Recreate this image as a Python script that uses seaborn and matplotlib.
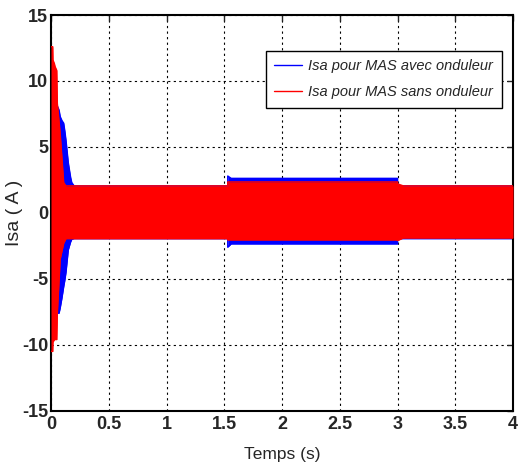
import seaborn as sns
import matplotlib.pyplot as plt
import pandas as pd

# envelope of Isa (A)
blue_t = [0.0, 0.05, 0.07, 0.08, 0.095, 0.11, 0.12, 0.13, 0.15, 0.17, 0.18, 0.20,
          1.53, 1.53, 1.56, 3.0, 3.0, 4.0]
blue_top = [8.2, 8.2, 7.8, 7.3, 7.0, 6.8, 6.2, 5.5, 3.8, 2.7, 2.3, 2.05,
            2.05, 2.8, 2.62, 2.62, 2.05, 2.05]
blue_bot = [-7.6, -7.6, -7.6, -7.2, -6.45, -5.6, -5.1, -4.5, -2.8, -2.2, -2.0, -1.95,
            -1.95, -2.6, -2.35, -2.35, -1.95, -1.95]

red_t = [0.0, 0.015, 0.017, 0.03, 0.035, 0.05, 0.055, 0.08, 0.11, 0.13,
         1.53, 1.53, 3.0, 3.0, 3.05, 4.0]
red_top = [12.6, 12.6, 11.6, 11.3, 11.1, 10.8, 8.3, 6.0, 2.3, 2.05,
           2.05, 2.35, 2.35, 2.2, 2.05, 2.05]
red_bot = [-10.5, -10.5, -9.8, -9.6, -9.6, -9.6, -7.6, -3.5, -2.3, -1.95,
           -1.95, -2.05, -2.05, -2.1, -1.9, -1.9]

labels = ['Isa pour MAS avec onduleur', 'Isa pour MAS sans onduleur']
colors = ['#0000ff', '#ff0000']

rows = []
for lab, t, top, bot in [(labels[0], blue_t, blue_top, blue_bot),
                         (labels[1], red_t, red_top, red_bot)]:
    for i in range(len(t)):
        rows.append({'t': t[i], 'v': top[i], 'serie': lab, 'edge': 'top'})
        rows.append({'t': t[i], 'v': bot[i], 'serie': lab, 'edge': 'bot'})
df = pd.DataFrame(rows)

sns.set_style('white')
plt.rcParams['font.family'] = ['Liberation Sans', 'DejaVu Sans']
plt.rcParams['axes.unicode_minus'] = False

fig = plt.figure(figsize=(5.23, 4.70), dpi=100)
ax = fig.add_axes([0.0975, 0.126, 0.8835, 0.842])

sns.lineplot(data=df, x='t', y='v', hue='serie', units='edge', estimator=None,
             palette=colors, linewidth=1.0, ax=ax, sort=False)
ax.fill_between(blue_t, blue_bot, blue_top, color=colors[0], lw=0, zorder=2)
ax.fill_between(red_t, red_bot, red_top, color=colors[1], lw=0, zorder=3)
for ln in ax.lines:
    ln.set_zorder(2 if ln.get_color() in ('#0000ff', (0.0, 0.0, 1.0)) else 3)

ax.set_xlim(0, 4)
ax.set_ylim(-15, 15)
ax.set_xticks([0, 0.5, 1, 1.5, 2, 2.5, 3, 3.5, 4])
ax.set_xticklabels(['0', '0.5', '1', '1.5', '2', '2.5', '3', '3.5', '4'])
ax.set_yticks([-15, -10, -5, 0, 5, 10, 15])
ax.grid(True, color='k', linestyle=(0, (2, 3)), linewidth=0.8)
ax.set_axisbelow(True)
ax.tick_params(direction='in', length=4, width=1, top=True, right=True,
               labelsize=13, pad=2)
ax.tick_params(axis='x', pad=4)
for lbl in ax.get_xticklabels() + ax.get_yticklabels():
    lbl.set_fontweight('bold')
for s in ax.spines.values():
    s.set_color('k')
    s.set_linewidth(1.5)

ax.set_xlabel('Temps (s)', fontsize=12.5)
ax.xaxis.set_label_coords(0.5, -0.092)
ax.set_ylabel('Isa ( A )', fontsize=14)
ax.yaxis.set_label_coords(-0.06, 0.5)

h, l = ax.get_legend_handles_labels()
leg = ax.legend(h, l, loc='upper right', bbox_to_anchor=(0.975, 0.91),
                borderaxespad=0, fancybox=False, edgecolor='k', framealpha=1,
                prop={'style': 'italic', 'size': 10.5}, handlelength=1.9,
                handletextpad=0.4, labelspacing=0.8, borderpad=0.6)
leg.get_frame().set_linewidth(1.0)
leg.set_zorder(10)

plt.savefig('out.png', dpi=100)
plt.close()
